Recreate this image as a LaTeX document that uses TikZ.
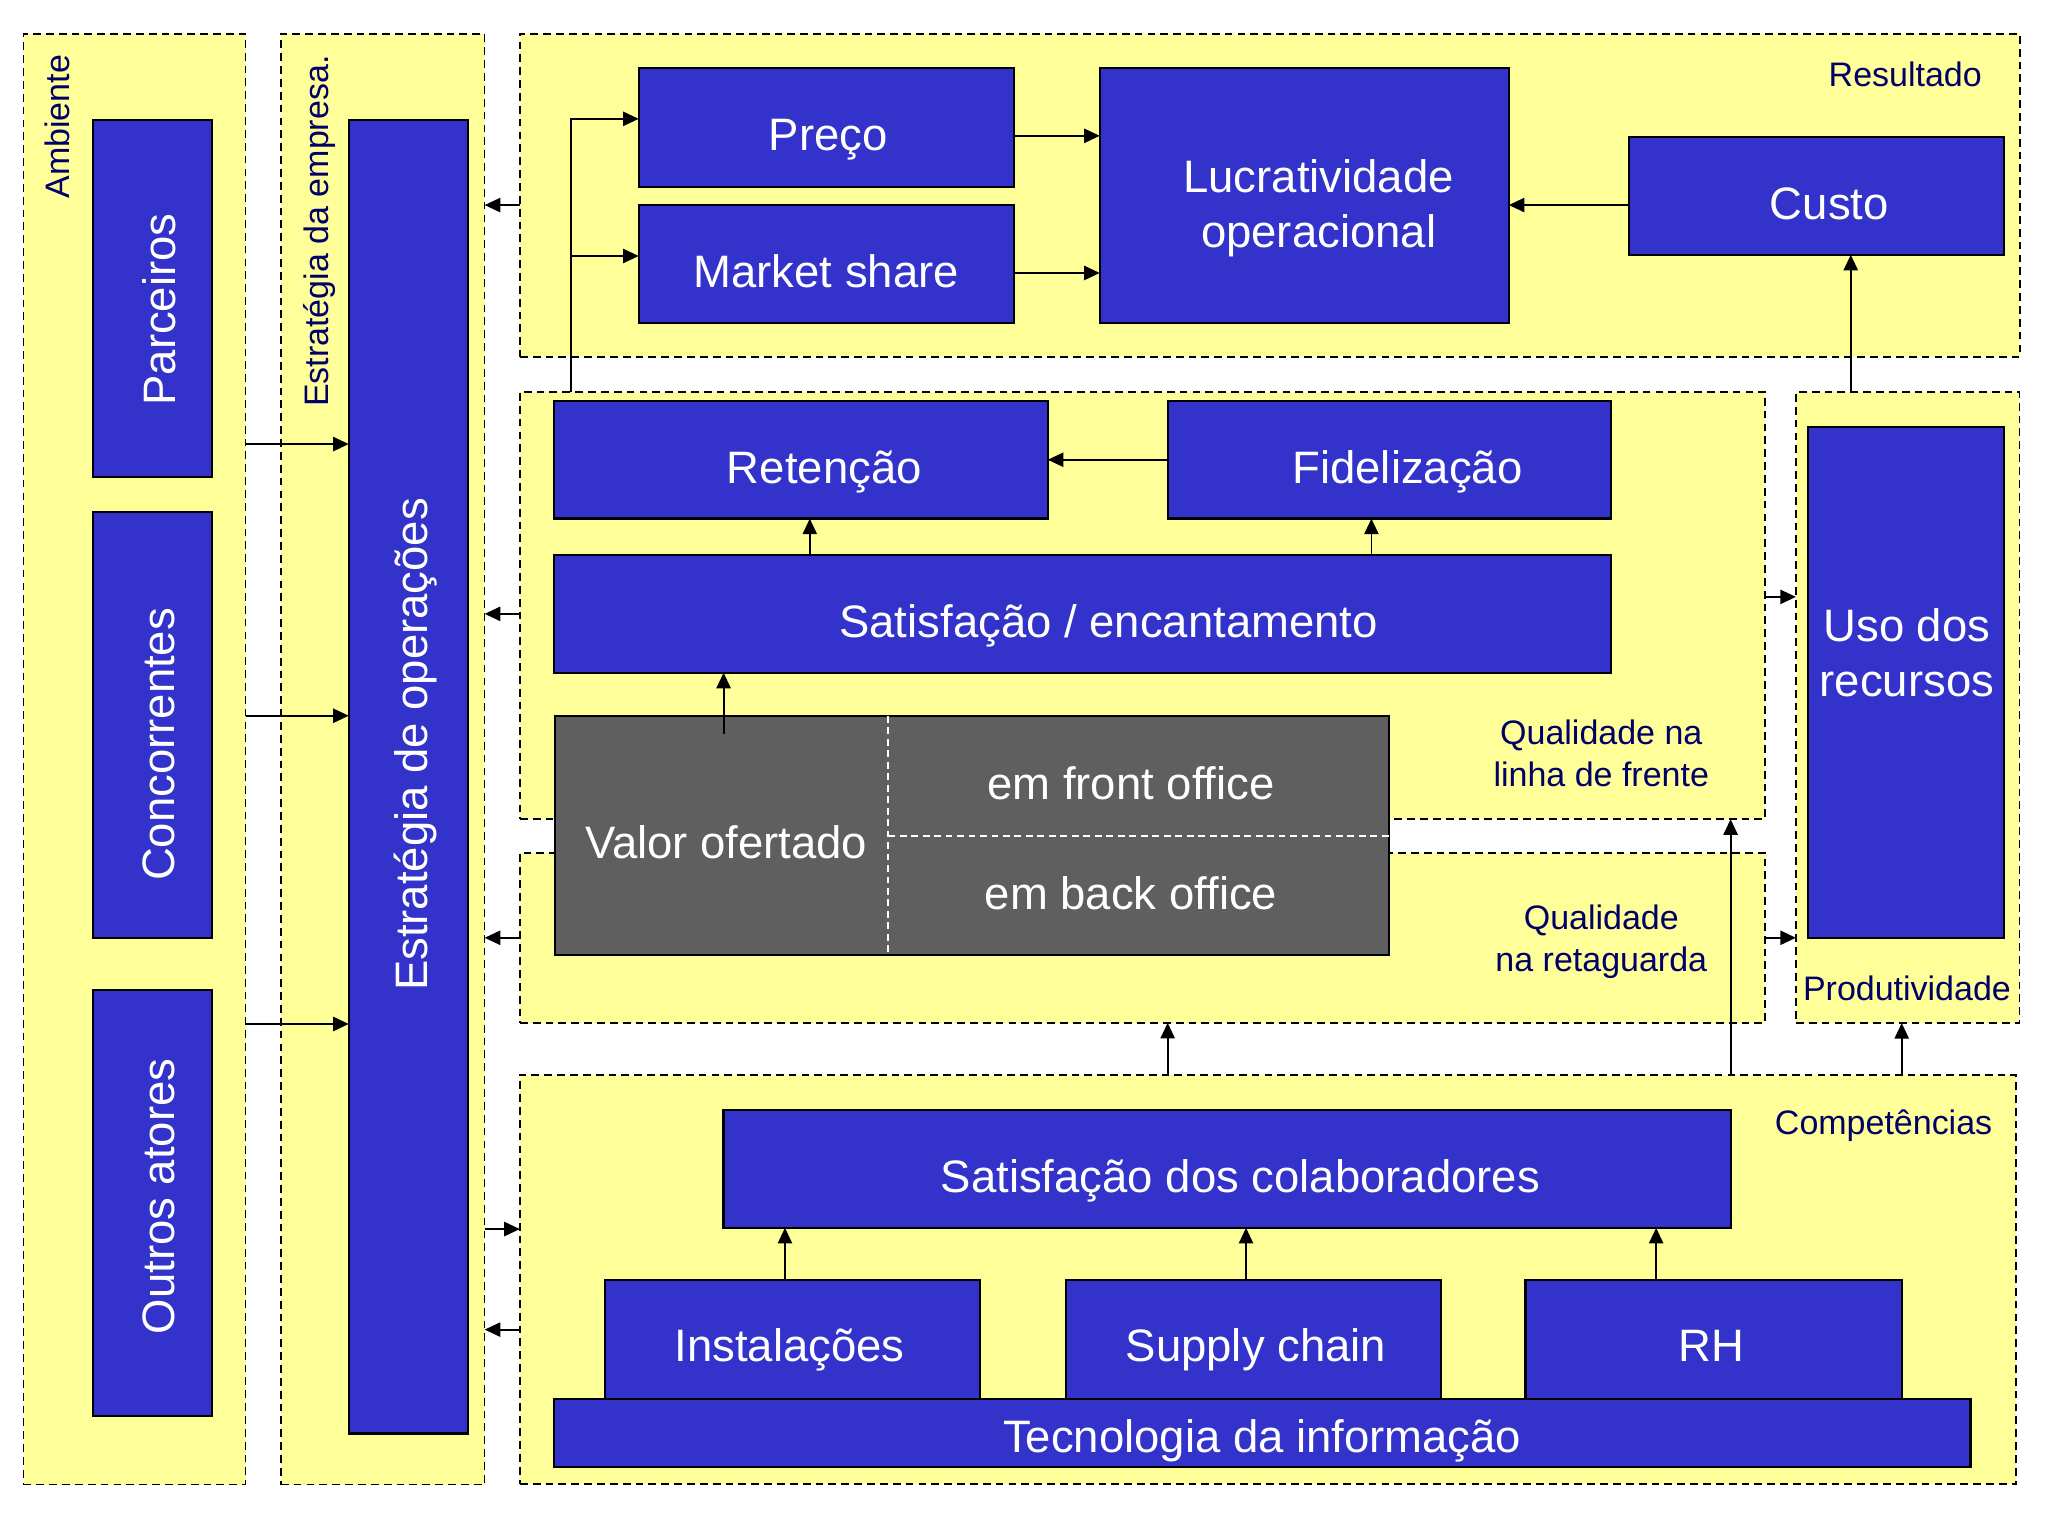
\documentclass[tikz,border=0pt]{standalone}
\usepackage{fontspec}
\setmainfont{Liberation Sans}
\usetikzlibrary{arrows.meta,calc}
\definecolor{cyel}{HTML}{FFFF99}
\definecolor{cblue}{HTML}{3333CC}
\definecolor{cgrey}{HTML}{5F5F5F}
\definecolor{cnavy}{HTML}{000066}
\newcommand\mkbox[7]{%
  \pgfmathsetmacro\bw{(#5-#3)/100}\pgfmathsetmacro\bh{(#6-#4)/100}%
  \node[#1, minimum width=\bw cm, minimum height=\bh cm] (#2) at (#3,#4) {#7};}
\begin{document}
\begin{tikzpicture}[x=0.01cm,y=-0.01cm,
  cont/.style={draw=black, dash pattern=on 1.7pt off 1.1pt, fill=cyel, line width=0.35pt, inner sep=0, outer sep=0, anchor=north west},
  bbox/.style={draw=black, fill=cblue, line width=0.5pt, inner sep=0, outer sep=0, anchor=north west},
  gbox/.style={bbox, fill=cgrey},
  wtxt/.style={text=white, font=\fontsize{9.9}{11.9}\selectfont, align=center, inner sep=0},
  btxt/.style={wtxt, anchor=base},
  lbl/.style={text=cnavy, font=\fontsize{7.4}{9.1}\selectfont, align=center, inner sep=0},
  arr/.style={-{Triangle[length=3.4pt,width=3.1pt]}, line width=0.4pt},
  wdash/.style={draw=white, dash pattern=on 1.5pt off 1pt, line width=0.4pt},
]
\useasboundingbox (0,0) rectangle (1568,1176);
\fill[white] (0,0) rectangle (1568,1176);
% containers
\mkbox{cont}{amb}{18}{26}{188}{1136}{}
\mkbox{cont}{est}{215}{26}{371}{1136}{}
\mkbox{cont}{res}{398}{26}{1546}{273}{}
\mkbox{cont}{lf}{398}{300}{1351}{627}{}
\mkbox{cont}{prod}{1375}{300}{1546}{783}{}
\mkbox{cont}{ret}{398}{653}{1351}{783}{}
\mkbox{cont}{comp}{398}{823}{1543}{1136}{}
% container labels
\node[lbl, rotate=90] (lamb) at (44,97) {Ambiente};
\node[lbl, rotate=90] (lest) at (245,177) {Estratégia da empresa.};
\node[lbl, anchor=east] (lres) at (1518,57) {Resultado};
\node[lbl] (llf) at (1226,577) {Qualidade na\\linha de frente};
\node[lbl] (lret) at (1226,721) {Qualidade\\na retaguarda};
\node[lbl] (lprod) at (1460,757) {Produtividade};
\node[lbl, anchor=east] (lcomp) at (1526,862) {Competências};
% blue boxes
\mkbox{bbox}{parc}{71}{92}{162}{365}{}
\mkbox{bbox}{conc}{71}{392}{162}{718}{}
\mkbox{bbox}{outr}{71}{758}{162}{1084}{}
\mkbox{bbox}{estop}{267}{92}{358}{1097}{}
\node[wtxt, rotate=90] (tparc) at (122,237) {Parceiros};
\node[wtxt, rotate=90] (tconc) at (122,570) {Concorrentes};
\node[wtxt, rotate=90] (toutr) at (122,916) {Outros atores};
\node[wtxt, rotate=90] (testop) at (318,570) {Estratégia de operações};
\mkbox{bbox}{preco}{489}{52}{776}{143}{}
\mkbox{bbox}{ms}{489}{157}{776}{247}{}
\mkbox{bbox}{lucr}{842}{52}{1155}{247}{}
\mkbox{bbox}{custo}{1247}{105}{1534}{195}{}
\mkbox{bbox}{retn}{424}{307}{802}{397}{}
\mkbox{bbox}{fid}{894}{307}{1233}{397}{}
\mkbox{bbox}{sat}{424}{425}{1233}{515}{}
\mkbox{bbox}{uso}{1384}{327}{1534}{718}{}
\node[btxt] (tpreco) at ($(preco.center)+(1.5,18)$) {Preço};
\node[btxt] (tms) at ($(ms.center)+(0,18)$) {Market share};
\node[wtxt] (tlucr) at ($(lucr.center)+(11,10)$) {Lucratividade\\operacional};
\node[btxt] (tcusto) at ($(custo.center)+(10,18)$) {Custo};
\node[btxt] (tretn) at ($(retn.center)+(18,18)$) {Retenção};
\node[btxt] (tfid) at ($(fid.center)+(14,18)$) {Fidelização};
\node[btxt] (tsat) at ($(sat.center)+(20,18)$) {Satisfação / encantamento};
\node[wtxt] (tuso) at (1460,500) {Uso dos\\recursos};
\mkbox{gbox}{valor}{425}{548}{1063}{731}{}
\draw[wdash] (valor.north -| 680,0) -- (valor.south -| 680,0);
\draw[wdash] (680,640) -- (valor.east |- 0,640);
\node[wtxt] (tvalor) at (556,645) {Valor ofertado};
\node[wtxt] (tfront) at (866,600) {em front office};
\node[wtxt] (tback) at (866,684) {em back office};
\mkbox{bbox}{scol}{554}{850}{1325}{940}{}
\mkbox{bbox}{inst}{463}{980}{750}{1071}{}
\mkbox{bbox}{sc}{816}{980}{1103}{1071}{}
\mkbox{bbox}{rh}{1168}{980}{1456}{1071}{}
\mkbox{bbox}{ti}{424}{1071}{1508}{1123}{}
\node[btxt] (tscol) at ($(scol.center)+(10,18)$) {Satisfação dos colaboradores};
\node[btxt] (tinst) at ($(inst.center)+(-2,17)$) {Instalações};
\node[btxt] (tsc) at ($(sc.center)+(2,17)$) {Supply chain};
\node[btxt] (trh) at ($(rh.center)+(-2,17)$) {RH};
\node[btxt] (tti) at ($(ti.center)+(0,15)$) {Tecnologia da informação};
% arrows: containers to strategy column
\draw[arr] (res.west |- 0,157) -- (est.east |- 0,157);
\draw[arr] (lf.west |- 0,470) -- (est.east |- 0,470);
\draw[arr] (ret.west |- 0,718) -- (est.east |- 0,718);
\draw[arr] (est.east |- 0,941) -- (comp.west |- 0,941);
\draw[arr] (comp.west |- 0,1018) -- (est.east |- 0,1018);
% ambiente to estrategia de operacoes
\draw[arr] (amb.east |- 0,340) -- (estop.west |- 0,340);
\draw[arr] (amb.east |- 0,548) -- (estop.west |- 0,548);
\draw[arr] (amb.east |- 0,784) -- (estop.west |- 0,784);
% resultado
\coordinate (sp) at (lf.north -| 437,0);
\draw[arr] (sp) |- (preco.west |- 0,91);
\draw[arr] (sp |- 0,196) -- (ms.west |- 0,196);
\draw[arr] (preco.east |- 0,104) -- (lucr.west |- 0,104);
\draw[arr] (ms.east |- 0,209) -- (lucr.west |- 0,209);
\draw[arr] (custo.west |- 0,157) -- (lucr.east |- 0,157);
\draw[arr] (prod.north -| 1417,0) -- (custo.south -| 1417,0);
% linha de frente
\draw[arr] (fid.west |- 0,352) -- (retn.east |- 0,352);
\draw[arr] (sat.north -| 620,0) -- (retn.south -| 620,0);
\draw[arr] (sat.north -| 1050,0) -- (fid.south -| 1050,0);
\coordinate (vo) at (554,562);
\draw[arr] (vo) -- (sat.south -| vo);
\draw[arr] (lf.east |- 0,457) -- (prod.west |- 0,457);
\draw[arr] (ret.east |- 0,718) -- (prod.west |- 0,718);
% competencias
\draw[arr] (comp.north -| 894,0) -- (ret.south -| 894,0);
\draw[arr] (comp.north -| 1325,0) -- (lf.south -| 1325,0);
\draw[arr] (comp.north -| 1456,0) -- (prod.south -| 1456,0);
\draw[arr] (inst.north -| 601,0) -- (scol.south -| 601,0);
\draw[arr] (sc.north -| 954,0) -- (scol.south -| 954,0);
\draw[arr] (rh.north -| 1268,0) -- (scol.south -| 1268,0);
\end{tikzpicture}
\end{document}
